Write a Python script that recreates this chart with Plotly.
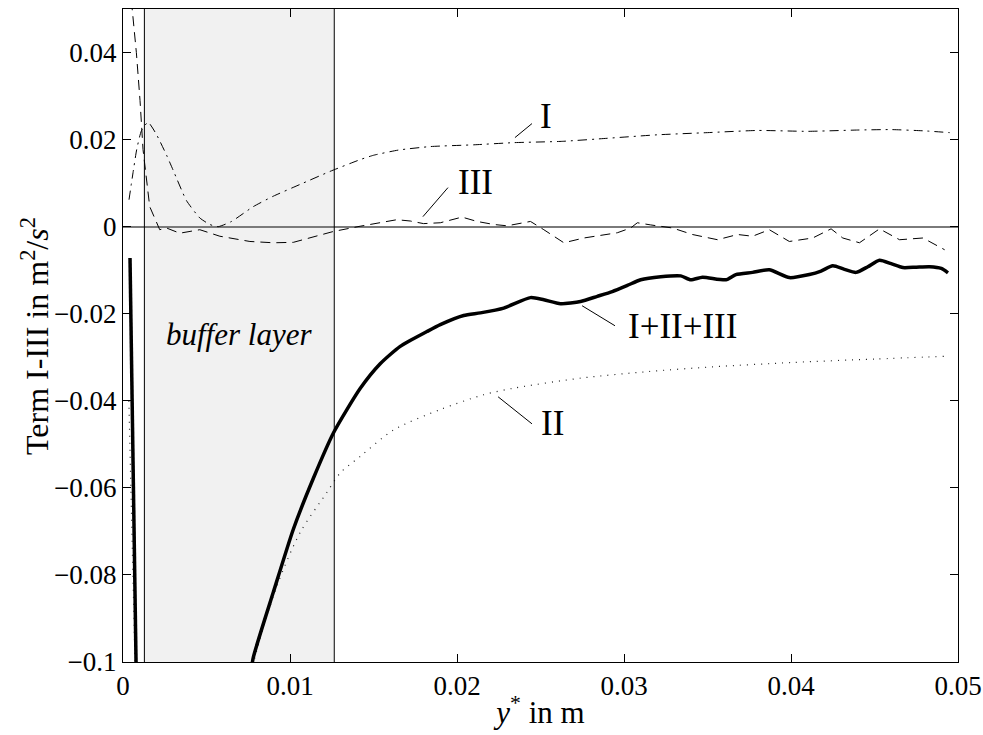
import plotly.graph_objects as go

# ---------------- data ----------------
# Term I (dash-dot)
t1_x = [0.00036, 0.0006, 0.00082, 0.0011, 0.0015, 0.0020, 0.0026, 0.0030, 0.0038, 0.0046,
        0.0052, 0.0057, 0.0065, 0.0078, 0.0090, 0.0106, 0.0124, 0.0142, 0.0150, 0.0165,
        0.0184, 0.0210, 0.0234, 0.0263, 0.0290, 0.0320, 0.0350, 0.0380, 0.0410, 0.0440,
        0.0460, 0.0480, 0.0495]
t1_y = [0.0062, 0.0124, 0.0177, 0.0220, 0.0240, 0.0212, 0.0165, 0.0130, 0.0060, 0.0020,
        0.0005, 0.0000, 0.0012, 0.0046, 0.0070, 0.0097, 0.0127, 0.0154, 0.0164, 0.0176,
        0.0184, 0.0188, 0.0193, 0.0196, 0.0203, 0.0211, 0.0216, 0.0221, 0.0219, 0.0222,
        0.0223, 0.0220, 0.0216]

# Term III (dashed)
t3_x = [0.00050, 0.0008, 0.00102, 0.0012, 0.0016, 0.0022, 0.0026, 0.0034, 0.0046, 0.0058,
        0.0076, 0.0090, 0.0102, 0.0116, 0.0126, 0.0142, 0.0152, 0.0164, 0.0172, 0.0180,
        0.0190, 0.0203, 0.0212, 0.0222, 0.0230, 0.0244, 0.0252, 0.0264, 0.0276, 0.0286,
        0.0296, 0.0304, 0.0308, 0.0316, 0.0329, 0.0341, 0.0356, 0.0368, 0.0377, 0.0387,
        0.0399, 0.0413, 0.0424, 0.0431, 0.0441, 0.0453, 0.0465, 0.0479, 0.0492]
t3_y = [0.0520, 0.0400, 0.0290, 0.0177, 0.0046, -0.0007, -0.0003, -0.0015, -0.0007, -0.0022,
        -0.0034, -0.0037, -0.0036, -0.0022, -0.0011, 0.0001, 0.0008, 0.0016, 0.0013, 0.0007,
        0.0009, 0.0022, 0.0012, 0.0005, 0.0002, 0.0012, -0.0007, -0.0037, -0.0026, -0.0020,
        -0.0014, -0.0003, 0.0009, 0.0004, -0.0003, -0.0018, -0.0030, -0.0018, -0.0022, -0.0007,
        -0.0034, -0.0026, -0.0005, -0.0026, -0.0037, -0.0005, -0.0030, -0.0026, -0.0053]

# Term II (dotted)
t2_x = [0.00035, 0.00075, None, 0.0077, 0.0079, 0.0092, 0.0106, 0.0122, 0.0130, 0.0142,
        0.0162, 0.0190, 0.0216, 0.0234, 0.0274, 0.0314, 0.0353, 0.0401, 0.0450, 0.0492]
t2_y = [-0.040, -0.105, None, -0.104, -0.099, -0.0827, -0.0703, -0.0611, -0.0566, -0.0528,
        -0.0467, -0.0420, -0.0386, -0.0371, -0.0348, -0.0333, -0.0322, -0.0312, -0.0304, -0.0298]

# Sum I+II+III (thick solid)
sum_x = [0.00042, 0.00080, None, 0.0076, 0.0078, 0.0090, 0.0102, 0.0114, 0.0126, 0.0142,
         0.0154, 0.0166, 0.0182, 0.0190, 0.0204, 0.0214, 0.0228, 0.0244, 0.0252, 0.0262,
         0.0274, 0.0284, 0.0293, 0.0302, 0.0310, 0.0322, 0.0334, 0.0340, 0.0347, 0.0361,
         0.0367, 0.0377, 0.0387, 0.0399, 0.0411, 0.0418, 0.0425, 0.0432, 0.0439, 0.0446,
         0.0453, 0.0460, 0.0467, 0.0475, 0.0483, 0.0490, 0.0494]
sum_y = [-0.0072, -0.105, None, -0.104, -0.099, -0.084, -0.0695, -0.0578, -0.0474, -0.0372,
         -0.0315, -0.0275, -0.0241, -0.0225, -0.0204, -0.0198, -0.0187, -0.0163, -0.0168, -0.0177,
         -0.0172, -0.0160, -0.0149, -0.0135, -0.0122, -0.0115, -0.0113, -0.0122, -0.0116, -0.0122,
         -0.0110, -0.0105, -0.0099, -0.0117, -0.0110, -0.0102, -0.0090, -0.0098, -0.0105, -0.0092,
         -0.0077, -0.0085, -0.0094, -0.0093, -0.0092, -0.0096, -0.0106]

buffer_range = [0.00128, 0.01265]

x_ticks = [0, 0.01, 0.02, 0.03, 0.04, 0.05]
x_ticktext = ["0", "0.01", "0.02", "0.03", "0.04", "0.05"]
y_ticks = [-0.1, -0.08, -0.06, -0.04, -0.02, 0, 0.02, 0.04]
y_ticktext = ["\u22120.1", "\u22120.08", "\u22120.06", "\u22120.04", "\u22120.02", "0", "0.02", "0.04"]

# labels: (text, text x, text y, leader x0, y0, x1, y1)
labels = [
    ("I", 0.02533, 0.02529, 0.02347, 0.02046, 0.02449, 0.02368),
    ("III", 0.02108, 0.0101, 0.01796, 0.0023, 0.01946, 0.00897),
    ("I+II+III", 0.03353, -0.02299, 0.02749, -0.01816, 0.02946, -0.02276),
    ("II", 0.02569, -0.04529, 0.02246, -0.03908, 0.02449, -0.04529),
]

FONT = "Liberation Serif"

fig = go.Figure()

fig.add_trace(go.Scatter(x=t2_x, y=t2_y, mode="lines", line_shape="spline",
                         line=dict(color="#222222", width=1.2, dash="1px,6px", smoothing=0.8),
                         showlegend=False, connectgaps=False))
fig.add_trace(go.Scatter(x=t1_x, y=t1_y, mode="lines", line_shape="spline",
                         line=dict(color="black", width=1, dash="9px,5px,2px,5px", smoothing=0.5),
                         showlegend=False))
fig.add_trace(go.Scatter(x=t3_x, y=t3_y, mode="lines",
                         line=dict(color="black", width=1, dash="10px,6px"),
                         showlegend=False))
fig.add_trace(go.Scatter(x=sum_x, y=sum_y, mode="lines", line_shape="spline",
                         line=dict(color="black", width=3.5, smoothing=0.6),
                         showlegend=False, connectgaps=False))

# buffer layer shading and boundaries
fig.add_shape(type="rect", xref="x", yref="paper", x0=buffer_range[0], x1=buffer_range[1],
              y0=0, y1=1, fillcolor="#f1f1f1", line_width=0, layer="below")
for bx in buffer_range:
    fig.add_shape(type="line", xref="x", yref="paper", x0=bx, x1=bx, y0=0, y1=1,
                  line=dict(color="black", width=1), layer="above")

fig.add_annotation(x=(buffer_range[0] + buffer_range[1]) / 2, y=-0.0248,
                   text="<i>buffer layer</i>", showarrow=False,
                   font=dict(family=FONT, size=31, color="black"))

for txt, tx, ty, lx0, ly0, lx1, ly1 in labels:
    fig.add_shape(type="line", xref="x", yref="y", x0=lx0, y0=ly0, x1=lx1, y1=ly1,
                  line=dict(color="black", width=1))
    fig.add_annotation(x=tx, y=ty, text=txt, showarrow=False,
                       font=dict(family=FONT, size=35, color="black"))

# y-axis title as rotated annotation
fig.add_annotation(xref="paper", yref="paper", x=-0.106, y=0.5, xanchor="center",
                   yanchor="middle", textangle=-90, showarrow=False,
                   text="Term I-III in m<sup>2</sup>/<i>s</i><sup>2</sup>",
                   font=dict(family=FONT, size=32, color="black"))

fig.update_layout(
    width=983, height=735,
    margin=dict(l=123, r=25, t=9, b=73, autoexpand=False),
    paper_bgcolor="white", plot_bgcolor="white",
    font=dict(family=FONT, size=26, color="black"),
    xaxis=dict(range=[0, 0.05], tickvals=x_ticks, ticktext=x_ticktext,
               showgrid=False, zeroline=False, showline=True, linecolor="black",
               linewidth=1, mirror="allticks", ticks="inside", ticklen=8,
               tickcolor="black", automargin=False,
               tickfont=dict(family=FONT, size=27),
               title=dict(text="<i>y</i><sup>*</sup> in m", font=dict(family=FONT, size=31), standoff=0)),
    yaxis=dict(range=[-0.1, 0.05], tickvals=y_ticks, ticktext=y_ticktext,
               showgrid=False, zeroline=True, zerolinecolor="#7a7a7a", zerolinewidth=1.8,
               showline=True, linecolor="black",
               linewidth=1, mirror="allticks", ticks="inside", ticklen=8,
               tickcolor="black", automargin=False,
               tickfont=dict(family=FONT, size=27)),
)

fig.write_html("out.html")
